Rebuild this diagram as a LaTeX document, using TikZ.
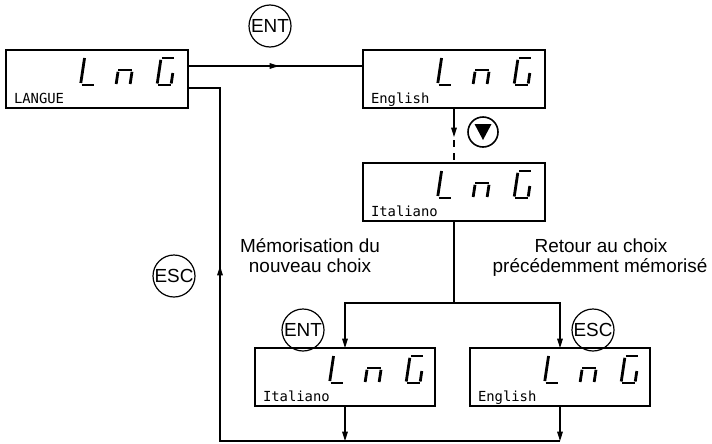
\documentclass[tikz,border=0pt]{standalone}
\usepackage{fontspec}
\setmainfont{Liberation Sans}
\newfontfamily\lcdfont{DejaVu Sans Mono}
\usetikzlibrary{arrows.meta,decorations.markings,calc}
\tikzset{
  lcdbox/.style={draw, line width=1pt, minimum width=136.5pt, minimum height=43.5pt, inner sep=0pt, outer sep=0pt, anchor=north west},
  lcdtext/.style={anchor=base west, inner sep=0pt, outer sep=0pt, font=\lcdfont\fontsize{10.4pt}{12pt}\selectfont},
  seg/.style={line width=2.1pt, line cap=butt},
  conn/.style={line width=0.9pt},
  arr/.style={-{Triangle[length=7pt,width=4.2pt]}},
  midarrow/.style={postaction={decorate}, decoration={markings, mark=at position #1 with {\arrow{Triangle[length=7pt,width=4.2pt]}}}},
  keycirc/.style={draw, circle, minimum size=31.5pt, inner sep=0pt, line width=0.9pt, font=\fontsize{14.2pt}{17pt}\selectfont},
  txt/.style={inner sep=0pt, anchor=base, font=\fontsize{14.2pt}{17pt}\selectfont}
}
\newcommand\lcdinside[2]{%
  \begin{scope}[shift={(#1.north west)}]
    \node[lcdtext] (#1-lab) at (8,53) {#2};
    \draw[seg] (74.8,33) -- (78.55,8);
    \draw[seg] (75.5,35) -- (87.5,35);
    \draw[seg] (112.3,20) -- (126.3,20);
    \draw[seg] (112.0,21.8) -- (110.15,34);
    \draw[seg] (126.0,21.8) -- (124.15,34);
    \draw[seg] (155.9,8) -- (168.1,8);
    \draw[seg] (154.8,9.8) -- (151.25,33.5);
    \draw[seg] (152,35) -- (165,35);
    \draw[seg] (165.25,33.5) -- (166.8,23);
  \end{scope}}
\begin{document}
\begin{tikzpicture}[x=0.75pt,y=-0.75pt]
\useasboundingbox (0,0) rectangle (712,443);
% boxes
\node[lcdbox] (b1) at (6,50) {};
\node[lcdbox] (b2) at (363,50) {};
\node[lcdbox] (b3) at (363,163) {};
\node[lcdbox, minimum width=135pt] (b4) at (255,348) {};
\node[lcdbox, minimum width=135pt] (b5) at (470,348) {};
\lcdinside{b1}{LANGUE}
\lcdinside{b2}{English}
\lcdinside{b3}{Italiano}
\lcdinside{b4}{Italiano}
\lcdinside{b5}{English}
% keys
\node[keycirc] (ent1) at (270,26) {ENT};
\node[keycirc] (esc1) at (174,276) {ESC};
\node[keycirc] (ent2) at (303,330) {ENT};
\node[keycirc] (esc2) at (593,330) {ESC};
\node[draw, circle, minimum size=22.5pt, inner sep=0pt, line width=1.2pt] (dn) at (483,132) {};
\fill ($(dn)+(-8.5,-8)$) -- ($(dn)+(8.5,-8)$) -- ($(dn)+(0,8)$) -- cycle;
% texts
\node[txt] (m1) at (310,252) {Mémorisation du};
\node[txt] (m2) at (310,272) {nouveau choix};
\node[txt] (r1) at (601,252) {Retour au choix};
\node[txt] (r2) at (600,272) {précédemment mémorisé};
% connectors
\coordinate (b1o) at ($(b1.north east)+(0,16)$);
\coordinate (b1r) at ($(b1.north east)+(0,38)$);
\coordinate (b2i) at ($(b2.north west)+(0,16)$);
\draw[conn, midarrow=0.52] (b1o) -- (b2i);
\coordinate (rt) at (220,88);
\coordinate (rb) at (220,441);
\draw[conn, midarrow=386.25pt] (b5.south |- rb) -- (rb) -- (rt) -- (b1r);
\coordinate (dtip) at ($(b2.south)+(0,29)$);
\draw[conn, arr] (b2.south) -- (dtip);
\draw[conn, dash pattern=on 5.25pt off 4.5pt, dash phase=7.5pt] (dtip) -- (b3.north);
\coordinate (br) at ($(b3.south)+(0,82)$);
\draw[conn] (b3.south) -- (br);
\draw[conn, arr] (br) -| (b4.north);
\draw[conn, arr] (br) -| (b5.north);
\draw[conn, arr] (b4.south) -- (b4.south |- rb);
\draw[conn, arr] (b5.south) -- (b5.south |- rb);
\end{tikzpicture}
\end{document}
